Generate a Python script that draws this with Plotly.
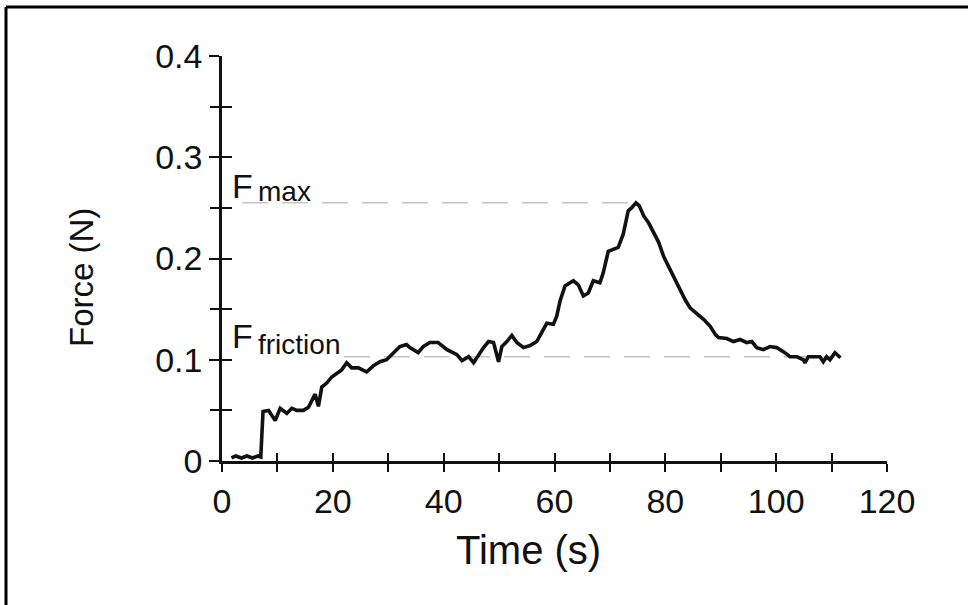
import plotly.graph_objects as go

# Force trace recorded during the pull test
time_s = [1.7, 2.5, 3.5, 4.5, 5.5, 6.5, 7.0, 7.4, 8.4, 9.6, 10.5, 11.7, 12.6, 13.5, 14.7,
          15.6, 16.8, 17.4, 18.0, 18.9, 19.8, 20.7, 21.6, 22.5, 23.4, 24.6, 26.1, 27.3,
          28.5, 29.7, 30.9, 32.1, 33.3, 33.9, 35.4, 36.3, 37.5, 39.0, 40.6, 42.4, 43.3,
          44.5, 45.4, 46.3, 47.2, 48.1, 49.0, 49.9, 50.5, 51.4, 52.3, 53.2, 54.4, 55.6,
          56.8, 57.7, 58.6, 59.8, 60.4, 61.0, 61.9, 63.4, 64.3, 65.2, 66.1, 67.0, 68.2,
          68.8, 69.7, 70.6, 71.5, 72.4, 73.3, 73.9, 74.7, 75.3, 76.1, 77.0, 77.9, 78.8,
          79.7, 80.6, 81.5, 82.4, 83.6, 84.5, 85.7, 86.9, 88.1, 89.0, 89.6, 91.1, 92.3,
          93.5, 94.7, 95.6, 96.5, 97.7, 98.9, 100.1, 101.3, 102.5, 103.7, 104.9, 105.2,
          105.8, 107.0, 107.9, 108.5, 109.1, 109.7, 110.6, 111.6]
force_n = [0.003, 0.005, 0.003, 0.005, 0.003, 0.005, 0.004, 0.049, 0.050, 0.040, 0.052,
           0.047, 0.052, 0.050, 0.050, 0.053, 0.066, 0.054, 0.073, 0.077, 0.083, 0.087,
           0.090, 0.097, 0.092, 0.092, 0.088, 0.094, 0.098, 0.100, 0.107, 0.113, 0.115,
           0.112, 0.107, 0.113, 0.117, 0.117, 0.110, 0.105, 0.099, 0.103, 0.097, 0.105,
           0.112, 0.118, 0.117, 0.098, 0.113, 0.118, 0.124, 0.117, 0.112, 0.114, 0.118,
           0.127, 0.136, 0.135, 0.143, 0.158, 0.173, 0.178, 0.174, 0.163, 0.166, 0.178,
           0.176, 0.186, 0.207, 0.209, 0.211, 0.224, 0.247, 0.250, 0.255, 0.252, 0.242,
           0.235, 0.225, 0.216, 0.202, 0.192, 0.181, 0.171, 0.159, 0.151, 0.146, 0.140,
           0.133, 0.125, 0.122, 0.121, 0.118, 0.120, 0.117, 0.118, 0.112, 0.110, 0.113,
           0.112, 0.108, 0.103, 0.103, 0.100, 0.097, 0.103, 0.103, 0.103, 0.098, 0.103,
           0.100, 0.107, 0.102]

# Reference levels (value, start time, end time)
f_max = 0.255
f_max_span = [3.6, 74.7]
f_friction = 0.103
f_friction_span = [22.0, 110.6]

x_ticks = [0, 20, 40, 60, 80, 100, 120]
x_minor = list(range(0, 121, 10))
y_ticks = [0, 0.1, 0.2, 0.3, 0.4]
y_tick_text = ["0", "0.1", "0.2", "0.3", "0.4"]
y_minor = [0, 0.05, 0.1, 0.15, 0.2, 0.25, 0.3, 0.35, 0.4]

W, H = 968, 605
FONT = "Liberation Sans, Arial, sans-serif"
INK = "#111111"
GUIDE = "#c4c4c4"

x_dom = [222 / W, 887 / W]
y_dom = [(H - 461) / H, (H - 56) / H]

fig = go.Figure()

# dashed guide lines for the two force levels
for level, span in ((f_max, f_max_span), (f_friction, f_friction_span)):
    fig.add_trace(go.Scatter(x=span, y=[level, level], mode="lines",
                             line=dict(color=GUIDE, width=1.5, dash="26px,14px"),
                             hoverinfo="skip", showlegend=False))

fig.add_trace(go.Scatter(x=time_s, y=force_n, mode="lines",
                         line=dict(color=INK, width=3.6), showlegend=False))

axis_common = dict(showgrid=False, zeroline=False, tickcolor=INK, tickwidth=2,
                   automargin=False)

fig.update_layout(
    template="none",
    width=W, height=H, autosize=False,
    margin=dict(l=0, r=0, t=0, b=0, pad=0, autoexpand=False),
    paper_bgcolor="white", plot_bgcolor="white",
    font=dict(family=FONT, color=INK),
    showlegend=False,
    xaxis=dict(domain=x_dom, range=[0, 120], showline=True, linecolor=INK, linewidth=2.5,
               tickvals=x_ticks, ticks="outside", ticklen=8,
               tickfont=dict(size=34, family=FONT, color=INK),
               minor=dict(tickvals=x_minor, ticks="outside", ticklen=8,
                          tickcolor=INK, tickwidth=2),
               anchor="y", **axis_common),
    xaxis2=dict(domain=x_dom, range=[0, 120], overlaying="x", anchor="y", side="bottom",
                showline=False, tickvals=x_minor, ticks="inside", ticklen=8,
                showticklabels=False, **axis_common),
    yaxis=dict(domain=y_dom, range=[0, 0.4], showline=True, linecolor=INK, linewidth=2.5,
               tickvals=y_ticks, ticktext=y_tick_text, ticks="outside", ticklen=10,
               tickfont=dict(size=34, family=FONT, color=INK),
               minor=dict(tickvals=y_minor, ticks="outside", ticklen=9,
                          tickcolor=INK, tickwidth=2),
               anchor="x", **axis_common),
    yaxis2=dict(domain=y_dom, range=[0, 0.4], overlaying="y", anchor="x", side="left",
                showline=False, tickvals=y_minor, ticks="inside", ticklen=10,
                showticklabels=False, **axis_common),
)

# invisible trace to activate the overlay axes that carry the inner tick halves
fig.add_trace(go.Scatter(x=[0], y=[0], xaxis="x2", yaxis="y2", mode="markers",
                         marker=dict(opacity=0), hoverinfo="skip", showlegend=False))

annotations = [
    dict(text="Force (N)", x=81 / W, y=1 - 278 / H, textangle=-90, font=dict(size=33)),
    dict(text="Time (s)", x=528 / W, y=1 - 550 / H, font=dict(size=40)),
    # level labels: capital F with a smaller subscript set beside it
    dict(text="F", x=230 / W, y=1 - 186 / H, xanchor="left", font=dict(size=34)),
    dict(text="max", x=256 / W, y=1 - 191 / H, xanchor="left", font=dict(size=28)),
    dict(text="F", x=230 / W, y=1 - 336 / H, xanchor="left", font=dict(size=34)),
    dict(text="friction", x=256 / W, y=1 - 344 / H, xanchor="left", font=dict(size=28)),
]
for a in annotations:
    a.setdefault("xanchor", "center")
    fig.add_annotation(xref="paper", yref="paper", showarrow=False, yanchor="middle", **a)

# frame around the figure
fig.add_shape(type="line", xref="paper", yref="paper", x0=6 / W, x1=1, y0=1 - 7 / H, y1=1 - 7 / H,
              line=dict(color="black", width=3))
fig.add_shape(type="line", xref="paper", yref="paper", x0=6 / W, x1=6 / W, y0=0, y1=1 - 7 / H,
              line=dict(color="black", width=3))

page_css = ("document.documentElement.style.margin='0';"
            "document.body.style.margin='0';"
            "document.body.style.padding='0';"
            "document.body.style.overflow='hidden';")

fig.write_html("out.html", post_script=page_css)
